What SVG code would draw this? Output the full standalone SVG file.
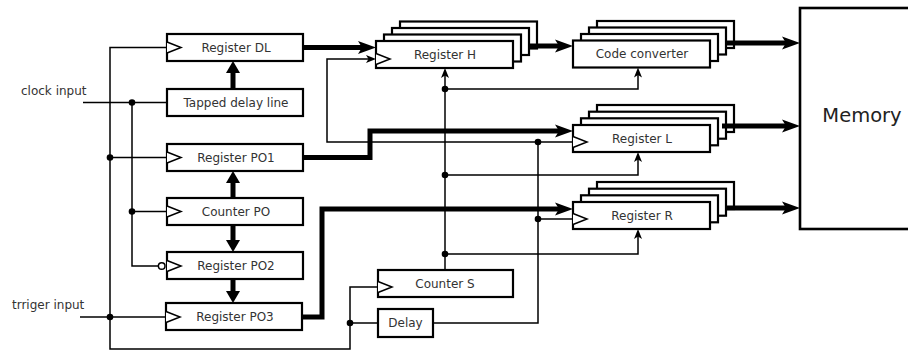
<svg xmlns="http://www.w3.org/2000/svg" width="908" height="352" viewBox="0 0 908 352">
<style>
.box{fill:#fff;stroke:#000;stroke-width:2.2}
.clk{fill:#fff;stroke:#000;stroke-width:1.5}
.lbl{font-family:"DejaVu Sans",Verdana,sans-serif;font-size:12px;fill:#333;text-anchor:middle}
.side{font-family:"DejaVu Sans",Verdana,sans-serif;font-size:12px;fill:#333}
.thin{fill:none;stroke:#000;stroke-width:1.5}
.bus{fill:none;stroke:#000;stroke-width:5;stroke-linejoin:miter}
.dot{fill:#000}
</style>
<defs>
<marker id="big" markerUnits="userSpaceOnUse" viewBox="0 0 18 14" markerWidth="18" markerHeight="14" refX="8" refY="7" orient="auto">
<path d="M0,0.5 L18,7 L0,13.5 L4,7 z" fill="#000"/>
</marker>
<marker id="small" markerUnits="userSpaceOnUse" viewBox="0 0 10 8" markerWidth="10" markerHeight="8" refX="4" refY="4" orient="auto">
<path d="M0,0 L10,4 L0,8 L2.5,4 z" fill="#000"/>
</marker>
<marker id="po" markerUnits="userSpaceOnUse" viewBox="0 0 12 14" markerWidth="12" markerHeight="14" refX="4" refY="7" orient="auto">
<path d="M0,0 L12,7 L0,14 z" fill="#000"/>
</marker>
</defs>

<rect width="908" height="352" fill="#fff"/>

<text class="side" x="21" y="95">clock input</text>
<text class="side" x="12" y="309">trriger input</text>

<g id="register-dl">
<rect class="box" x="167" y="34" width="136" height="27"/>
<path class="clk" d="M167,42 L181,47.5 L167,53"/>
<text class="lbl" x="236" y="51.8">Register DL</text>
</g>
<g id="tapped-delay-line">
<rect class="box" x="167" y="89" width="136" height="27"/>
<text class="lbl" x="236" y="106.8">Tapped delay line</text>
</g>
<g id="register-po1">
<rect class="box" x="167" y="144" width="136" height="27"/>
<path class="clk" d="M167,152 L181,157.5 L167,163"/>
<text class="lbl" x="236" y="161.8">Register PO1</text>
</g>
<g id="counter-po">
<rect class="box" x="167" y="198" width="136" height="27"/>
<path class="clk" d="M167,206 L181,211.5 L167,217"/>
<text class="lbl" x="236" y="215.8">Counter PO</text>
</g>
<g id="register-po2">
<rect class="box" x="167" y="252" width="136" height="27"/>
<path class="clk" d="M167,260.5 L181,266 L167,271.5"/>
<circle cx="161.7" cy="266" r="3.3" fill="#fff" stroke="#000" stroke-width="1.5"/>
<text class="lbl" x="236" y="269.8">Register PO2</text>
</g>
<g id="register-po3">
<rect class="box" x="166" y="303" width="136" height="27"/>
<path class="clk" d="M166,311.5 L180,317 L166,322.5"/>
<text class="lbl" x="235" y="320.8">Register PO3</text>
</g>

<g id="register-h">
<rect class="box" x="400" y="21.5" width="137" height="27"/>
<rect class="box" x="392" y="28" width="137" height="27"/>
<rect class="box" x="384" y="34.5" width="137" height="27"/>
<rect class="box" x="376" y="41" width="137" height="27"/>
<path class="clk" d="M376,53.5 L390,59 L376,64.5"/>
<text class="lbl" x="445" y="58.8">Register H</text>
</g>
<g id="code-converter">
<rect class="box" x="597" y="21" width="137" height="27"/>
<rect class="box" x="589" y="27.5" width="137" height="27"/>
<rect class="box" x="581" y="34" width="137" height="27"/>
<rect class="box" x="573" y="40.5" width="137" height="27"/>
<text class="lbl" x="642" y="58.3">Code converter</text>
</g>
<g id="register-l">
<rect class="box" x="597" y="105" width="137" height="27"/>
<rect class="box" x="589" y="111.7" width="137" height="27"/>
<rect class="box" x="581" y="118.3" width="137" height="27"/>
<rect class="box" x="573" y="125" width="137" height="27"/>
<path class="clk" d="M573,136.5 L587,142 L573,147.5"/>
<text class="lbl" x="642" y="142.8">Register L</text>
</g>
<g id="register-r">
<rect class="box" x="597" y="182" width="137" height="27"/>
<rect class="box" x="589" y="188.7" width="137" height="27"/>
<rect class="box" x="581" y="195.3" width="137" height="27"/>
<rect class="box" x="573" y="202" width="137" height="27"/>
<path class="clk" d="M573,213.5 L587,219 L573,224.5"/>
<text class="lbl" x="642" y="219.8">Register R</text>
</g>
<g id="counter-s">
<rect class="box" x="378" y="270" width="135" height="27"/>
<path class="clk" d="M378,281.5 L392,287 L378,292.5"/>
<text class="lbl" x="445" y="287.8">Counter S</text>
</g>
<g id="delay">
<rect class="box" x="378" y="309" width="55" height="28"/>
<text class="lbl" x="405.5" y="327.3">Delay</text>
</g>
<g id="memory">
<rect class="box" x="800" y="8" width="120" height="221" style="stroke-width:2.6"/>
<text x="862" y="122" style="font-family:'DejaVu Sans',Verdana,sans-serif;font-size:19.5px;fill:#222;text-anchor:middle">Memory</text>
</g>

<g id="connectors">
<path class="thin" d="M83,102.5 H167"/>
<path class="thin" d="M132,102.5 V266 H158.4"/>
<path class="thin" d="M132,211.5 H167"/>
<path class="thin" d="M167,47.5 H110 V349 H350 V287 H378"/>
<path class="thin" d="M110,157.5 H167"/>
<path class="thin" d="M80,317 H166"/>
<path class="thin" d="M350,323 H378"/>
<path class="thin" d="M433,323 H538 V142"/>
<path class="thin" d="M538,219 H573"/>
<path class="thin" d="M573,142 H327 V59 H370" marker-end="url(#small)"/>
<path class="thin" d="M445,270 V74" marker-end="url(#small)"/>
<path class="thin" d="M445,89 H638 V73.5" marker-end="url(#small)"/>
<path class="thin" d="M445,175 H638 V158" marker-end="url(#small)"/>
<path class="thin" d="M445,254 H638 V235" marker-end="url(#small)"/>

<path class="bus" d="M303,47.5 H366" marker-end="url(#big)"/>
<path class="bus" d="M529,46 H563" marker-end="url(#big)"/>
<path class="bus" d="M726,43 H790" marker-end="url(#big)"/>
<path class="bus" d="M722,126 H790" marker-end="url(#big)"/>
<path class="bus" d="M726,208 H790" marker-end="url(#big)"/>
<path class="bus" d="M303,157.5 H370 V131 H563" marker-end="url(#big)"/>
<path class="bus" d="M302,317 H322 V209 H563" marker-end="url(#big)"/>
<path class="bus" d="M233,89 V69" marker-end="url(#po)"/>
<path class="bus" d="M233,198 V179" marker-end="url(#po)"/>
<path class="bus" d="M233,225 V244" marker-end="url(#po)"/>
<path class="bus" d="M233,279 V295" marker-end="url(#po)"/>

<circle class="dot" cx="132" cy="102.5" r="3.3"/>
<circle class="dot" cx="132" cy="211.5" r="3.3"/>
<circle class="dot" cx="110" cy="157.5" r="3.3"/>
<circle class="dot" cx="110" cy="317" r="3.3"/>
<circle class="dot" cx="350" cy="323" r="3.3"/>
<circle class="dot" cx="538" cy="219" r="3.3"/>
<circle class="dot" cx="538" cy="142" r="3.3"/>
<circle class="dot" cx="445" cy="89" r="3.3"/>
<circle class="dot" cx="445" cy="175" r="3.3"/>
<circle class="dot" cx="445" cy="254" r="3.3"/>
</g>
</svg>
